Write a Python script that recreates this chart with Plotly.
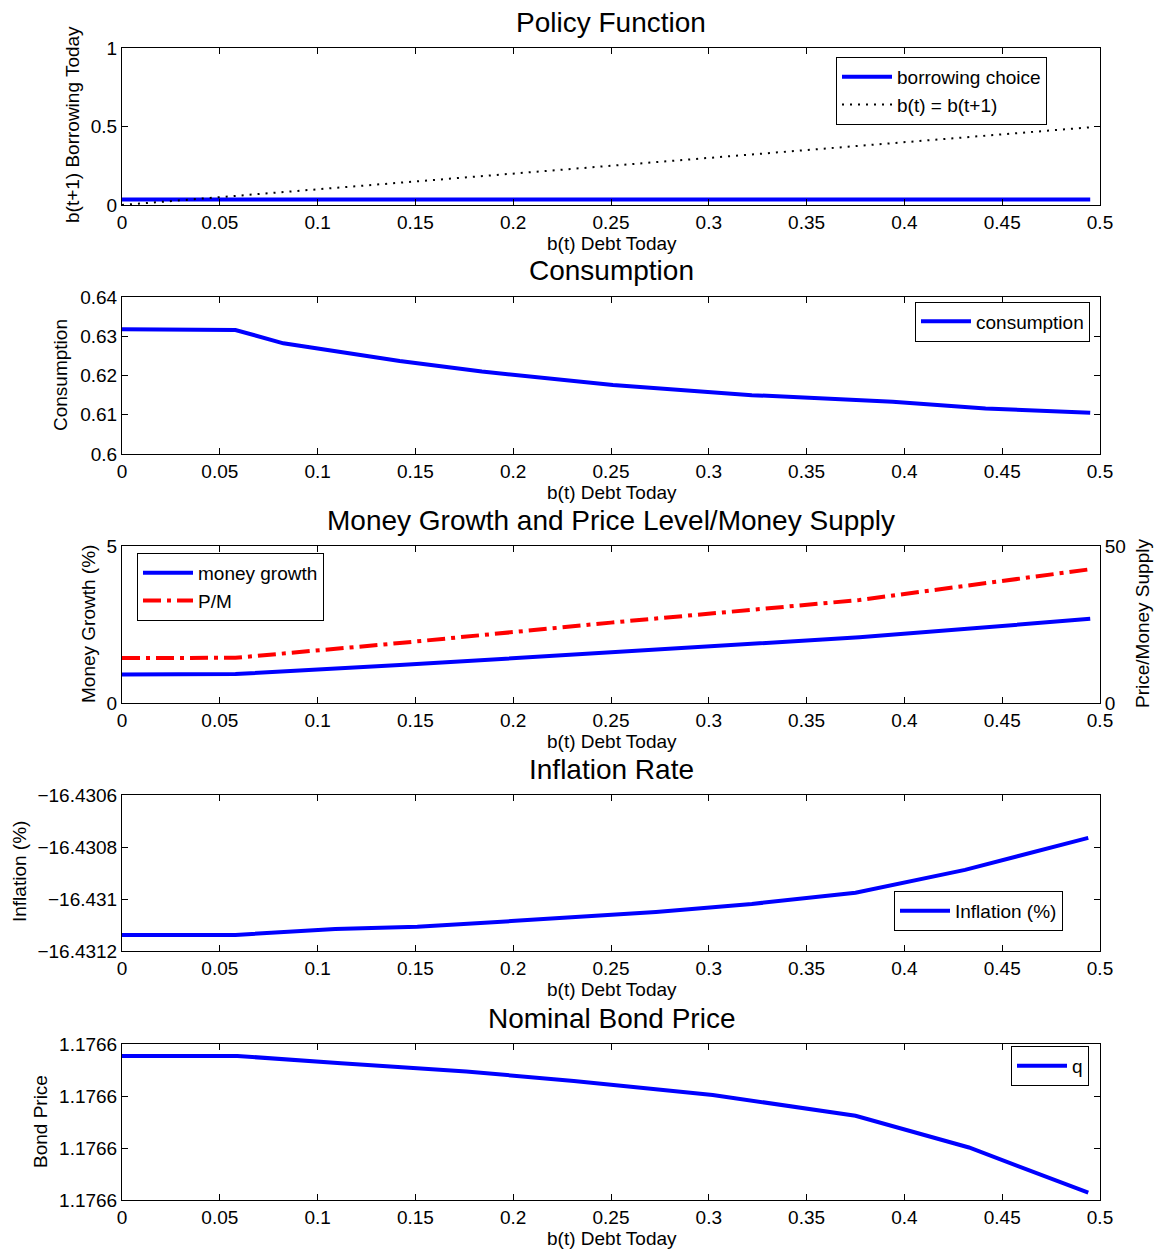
import plotly.graph_objects as go

# ---------------- data ----------------
X_TICKS = [0, 0.05, 0.1, 0.15, 0.2, 0.25, 0.3, 0.35, 0.4, 0.45, 0.5]
X_TICK_TEXT = ["0", "0.05", "0.1", "0.15", "0.2", "0.25", "0.3", "0.35", "0.4", "0.45", "0.5"]

policy_x = [0, 0.495]
borrowing_choice = [0.035, 0.035]
diag_x = [0, 0.495]
diag_y = [0, 0.495]

cons_x = [0, 0.038, 0.058, 0.0825, 0.142, 0.184, 0.251, 0.322, 0.394, 0.4415, 0.495]
consumption = [0.6318, 0.6318, 0.6316, 0.6282, 0.6237, 0.6210, 0.6176, 0.6150, 0.6133, 0.6116, 0.6105]

mg_x = [0, 0.058, 0.142, 0.25, 0.377, 0.495]
money_growth = [0.91, 0.92, 1.21, 1.62, 2.09, 2.68]
pm_x = [0, 0.058, 0.142, 0.25, 0.377, 0.495]
price_money = [14.3, 14.4, 19.1, 25.6, 32.8, 42.6]

inf_x = [0, 0.058, 0.109, 0.151, 0.199, 0.273, 0.322, 0.375, 0.431, 0.494]
inflation = [-16.431138, -16.431138, -16.431115, -16.431107, -16.431085,
             -16.431050, -16.431019, -16.430976, -16.430888, -16.430765]

bond_x = [0, 0.059, 0.112, 0.176, 0.231, 0.302, 0.375, 0.433, 0.494]
bond_price = [1.1766277, 1.1766277, 1.1766263, 1.1766247, 1.1766229,
              1.1766202, 1.1766162, 1.1766101, 1.1766014]

Y1_TICKS = [0, 0.5, 1]; Y1_TEXT = ["0", "0.5", "1"]
Y2_TICKS = [0.6, 0.61, 0.62, 0.63, 0.64]; Y2_TEXT = ["0.6", "0.61", "0.62", "0.63", "0.64"]
Y3_TICKS = [0, 5]; Y3_TEXT = ["0", "5"]
Y6_TICKS = [0, 50]; Y6_TEXT = ["0", "50"]
Y4_TICKS = [-16.4312, -16.431, -16.4308, -16.4306]
Y4_TEXT = ["\u221216.4312", "\u221216.431", "\u221216.4308", "\u221216.4306"]
Y5_TICKS = [1.17660, 1.17661, 1.17662, 1.17663]
Y5_TEXT = ["1.1766", "1.1766", "1.1766", "1.1766"]

TITLES = ["Policy Function", "Consumption", "Money Growth and Price Level/Money Supply",
          "Inflation Rate", "Nominal Bond Price"]
X_LABEL = "b(t) Debt Today"

# ---------------- layout helpers ----------------
W, H = 1158, 1252
ML, MR, MT, MB = 122, 58, 48, 52
PW, PH = W - ML - MR, H - MT - MB

def px(p):
    return (p - ML) / PW

def py(p):
    return 1 - (p - MT) / PH

tops = [48, 297, 546, 795, 1044]
heights = [157, 157, 157, 156, 156]

FONT = "Liberation Sans, Arial, Helvetica, sans-serif"
BLUE = "#0000ff"
FS = 19

fig = go.Figure()

fig.add_trace(go.Scatter(x=policy_x, y=borrowing_choice, mode="lines", name="borrowing choice",
                         line=dict(color=BLUE, width=4), xaxis="x", yaxis="y", legend="legend"))
fig.add_trace(go.Scatter(x=diag_x, y=diag_y, mode="lines", name="b(t) = b(t+1)",
                         line=dict(color="black", width=2, dash="2px,6px"),
                         xaxis="x", yaxis="y", legend="legend"))
fig.add_trace(go.Scatter(x=cons_x, y=consumption, mode="lines", name="consumption",
                         line=dict(color=BLUE, width=4), xaxis="x2", yaxis="y2", legend="legend2"))
fig.add_trace(go.Scatter(x=mg_x, y=money_growth, mode="lines", name="money growth",
                         line=dict(color=BLUE, width=4), xaxis="x3", yaxis="y3", legend="legend3"))
fig.add_trace(go.Scatter(x=pm_x, y=price_money, mode="lines", name="P/M",
                         line=dict(color="#ff0000", width=4, dash="18px,6px,4px,6px"),
                         xaxis="x3", yaxis="y6", legend="legend3"))
fig.add_trace(go.Scatter(x=inf_x, y=inflation, mode="lines", name="Inflation (%)",
                         line=dict(color=BLUE, width=4), xaxis="x4", yaxis="y4", legend="legend4"))
fig.add_trace(go.Scatter(x=bond_x, y=bond_price, mode="lines", name="q",
                         line=dict(color=BLUE, width=4), xaxis="x5", yaxis="y5", legend="legend5"))

common_ax = dict(showline=True, linecolor="black", linewidth=1, ticks="inside", ticklen=6,
                 tickcolor="black", tickwidth=1, showgrid=False, zeroline=False,
                 tickfont=dict(size=FS, color="black", family=FONT))

y_ranges = [[0, 1], [0.6, 0.64], [0, 5], [-16.4312, -16.4306], [1.17660, 1.17663]]
y_ticks = [(Y1_TICKS, Y1_TEXT), (Y2_TICKS, Y2_TEXT), (Y3_TICKS, Y3_TEXT),
           (Y4_TICKS, Y4_TEXT), (Y5_TICKS, Y5_TEXT)]

layout = dict(width=W, height=H, margin=dict(l=ML, r=MR, t=MT, b=MB),
              paper_bgcolor="white", plot_bgcolor="white",
              font=dict(family=FONT, size=FS, color="black"), showlegend=True)

annotations = []
for i in range(5):
    n = "" if i == 0 else str(i + 1)
    top, h = tops[i], heights[i]
    dom = [py(top + h), py(top)]
    layout["xaxis" + n] = dict(common_ax, domain=[0, 1], anchor="y" + n, range=[0, 0.5],
                                tickvals=X_TICKS, ticktext=X_TICK_TEXT, mirror="ticks")
    layout["yaxis" + n] = dict(common_ax, domain=dom, anchor="x" + n, range=y_ranges[i],
                                tickvals=y_ticks[i][0], ticktext=y_ticks[i][1],
                                mirror=(False if i == 2 else "ticks"))
    annotations.append(dict(text=TITLES[i], x=px(611), y=py(top - 26), xref="paper", yref="paper",
                            xanchor="center", yanchor="middle", showarrow=False,
                            font=dict(size=28, family=FONT, color="black")))
    annotations.append(dict(text=X_LABEL, x=px(612), y=py(top + h + 38), xref="paper", yref="paper",
                            xanchor="center", yanchor="middle", showarrow=False,
                            font=dict(size=FS, family=FONT, color="black")))

layout["yaxis6"] = dict(common_ax, overlaying="y3", side="right", anchor="x3", range=[0, 50],
                        tickvals=Y6_TICKS, ticktext=Y6_TEXT)

ylabels = [("b(t+1) Borrowing Today", 72, 125),
           ("Consumption", 60, 375),
           ("Money Growth (%)", 88, 624),
           ("Inflation (%)", 19, 872),
           ("Bond Price", 40, 1122),
           ("Price/Money Supply", 1142, 624)]
for txt, xp, yp in ylabels:
    annotations.append(dict(text=txt, x=px(xp), y=py(yp), xref="paper", yref="paper",
                            xanchor="center", yanchor="middle", textangle=-90, showarrow=False,
                            font=dict(size=FS, family=FONT, color="black")))
layout["annotations"] = annotations

leg_common = dict(bgcolor="white", bordercolor="black", borderwidth=1,
                  font=dict(size=FS, family=FONT, color="black"), xref="paper", yref="paper",
                  tracegroupgap=0, itemwidth=50)
layout["legend"] = dict(leg_common, x=px(1047), y=py(91), xanchor="right", yanchor="middle")
layout["legend2"] = dict(leg_common, x=px(1090), y=py(321.5), xanchor="right", yanchor="middle")
layout["legend3"] = dict(leg_common, x=px(137), y=py(587), xanchor="left", yanchor="middle")
layout["legend4"] = dict(leg_common, x=px(1063), y=py(911), xanchor="right", yanchor="middle")
layout["legend5"] = dict(leg_common, x=px(1089), y=py(1066), xanchor="right", yanchor="middle")

fig.update_layout(layout)
fig.write_html("out.html")
